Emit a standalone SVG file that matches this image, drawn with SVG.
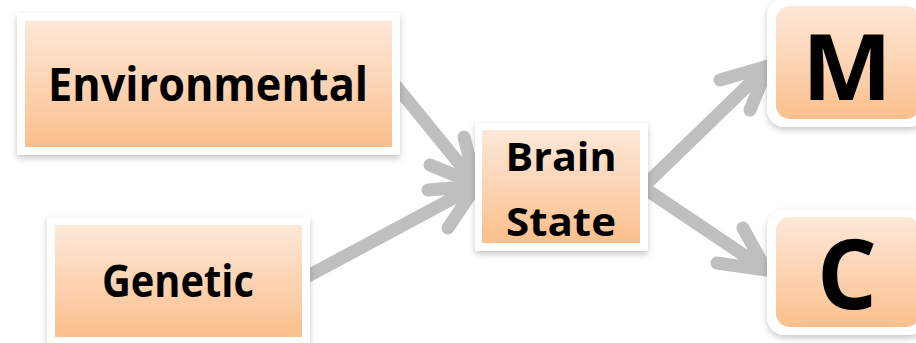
<svg xmlns="http://www.w3.org/2000/svg" width="916" height="343" viewBox="0 0 916 343">
  <defs>
    <linearGradient id="peach" x1="0" y1="0" x2="0" y2="1">
      <stop offset="0" stop-color="#fde8d8"/>
      <stop offset="0.55" stop-color="#fcd2b0"/>
      <stop offset="1" stop-color="#fbbf8c"/>
    </linearGradient>
    <filter id="shadow" x="-10%" y="-10%" width="120%" height="130%">
      <feDropShadow dx="0" dy="3" stdDeviation="3" flood-color="#000" flood-opacity="0.22"/>
    </filter>
  </defs>
  <style>
    .frame { fill: #ffffff; filter: url(#shadow); }
    .fill { fill: url(#peach); }
    .label { font-family: "Open Sans", Lato, "Liberation Sans", sans-serif; font-weight: bold; fill: #000; text-anchor: middle; font-variant-ligatures: none; }
    .conn { fill: none; stroke: #bfbfbf; stroke-width: 13; stroke-linecap: round; stroke-linejoin: round; }
  </style>

  <rect width="916" height="343" fill="#ffffff"/>

  <!-- connectors -->
  <g id="connectors">
    <path class="conn" d="M396,86 L476,184 M464,137 L476,184 L430,165"/>
    <path class="conn" d="M308,276 L476,186 M428,190 L476,186 L448,228"/>
    <path class="conn" d="M644,186 L768,66 M720,80 L768,66 L750,110"/>
    <path class="conn" d="M644,188 L766,270 M717,263 L766,270 L743,228"/>
  </g>

  <g id="environmental">
    <rect class="frame" x="17" y="13" width="383" height="142"/>
    <rect class="fill" x="25" y="21" width="367" height="126"/>
    <text class="label" x="208" y="101" font-size="47" textLength="320" lengthAdjust="spacingAndGlyphs">Environmental</text>
  </g>

  <g id="genetic">
    <rect class="frame" x="47" y="217" width="263" height="130"/>
    <rect class="fill" x="55" y="225" width="247" height="112"/>
    <text class="label" x="178" y="297" font-size="44" textLength="152" lengthAdjust="spacingAndGlyphs">Genetic</text>
  </g>

  <g id="brain-state">
    <rect class="frame" x="475" y="123" width="173" height="128"/>
    <rect class="fill" x="482" y="130" width="158" height="113"/>
    <text class="label" x="561" y="171" font-size="40" textLength="111" lengthAdjust="spacingAndGlyphs">Brain</text>
    <text class="label" x="561" y="236" font-size="40" textLength="110" lengthAdjust="spacingAndGlyphs">State</text>
  </g>

  <g id="m">
    <rect class="frame" x="767" y="-2" width="160" height="129" rx="18"/>
    <rect class="fill" x="776" y="6" width="144" height="113" rx="14"/>
    <text class="label" x="847" y="100" font-size="92" textLength="90" lengthAdjust="spacingAndGlyphs">M</text>
  </g>

  <g id="c">
    <rect class="frame" x="767" y="209" width="160" height="126" rx="18"/>
    <rect class="fill" x="776" y="217" width="144" height="110" rx="14"/>
    <text class="label" x="847" y="309" font-size="96" textLength="60" lengthAdjust="spacingAndGlyphs">C</text>
  </g>
</svg>
